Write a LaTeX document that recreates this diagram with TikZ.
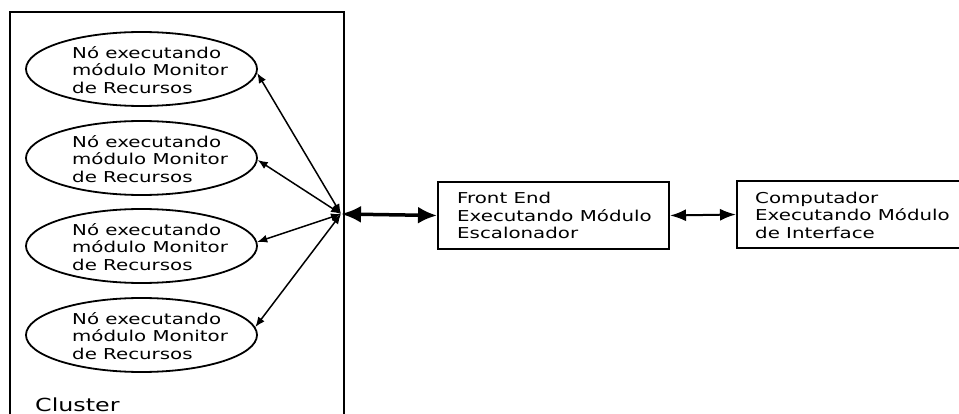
\documentclass[tikz,border=0pt]{standalone}
\usepackage{fontspec}
\setmainfont{DejaVu Sans}[FakeStretch=1.32]
\usetikzlibrary{shapes.geometric,arrows.meta}

\begin{document}
\begin{tikzpicture}[x=1pt,y=-1pt,
    font=\fontsize{15}{17.5}\selectfont,
    frame/.style={draw, line width=2pt, inner sep=0pt},
    nodering/.style={draw, ellipse, line width=1.8pt, minimum width=231pt, minimum height=74pt, inner sep=0pt},
    modbox/.style={draw, rectangle, line width=2pt, minimum width=231pt, minimum height=67pt, inner sep=0pt},
    caption/.style={align=left, inner sep=0pt, anchor=west},
    thinlink/.style={line width=1.5pt, {Latex[length=10pt,width=8pt]}-{Latex[length=10pt,width=8pt]}},
    thicklink/.style={line width=3.5pt, {Latex[length=20pt,width=17pt]}-{Latex[length=19pt,width=17pt]}},
    midlink/.style={line width=2pt, {Latex[length=16pt,width=12pt]}-{Latex[length=16pt,width=12pt]}}]

  \useasboundingbox (0,0) rectangle (959,414);

  % cluster frame (runs off the lower edge)
  \node[frame, anchor=north west, minimum width=334pt, minimum height=430pt] (cluster) at (9,11) {};
  \node[inner sep=0pt, anchor=base west, font=\fontsize{18}{21}\selectfont] (clusterlabel) at (35,411.5) {Cluster};

  % monitoring nodes inside the cluster
  \foreach \i/\y in {1/69, 2/158, 3/246, 4/335} {
    \node[nodering] (e\i) at (141.5,\y) {};
    \node[caption] (t\i) at (72,\y+1) {Nó executando\\módulo Monitor\\de Recursos};
  }

  % meeting point on the cluster border
  \coordinate (hub) at (341,214);

  % scheduler and interface machines
  \node[modbox] (fe) at (553.5,215.5) {};
  \node[caption] (fetext) at (457,215.5) {Front End\\Executando Módulo\\Escalonador};
  \node[modbox] (pc) at (852.5,214.5) {};
  \node[caption] (pctext) at (755,215) {Computador\\Executando Módulo\\de Interface};

  % links
  \draw[thinlink] (hub) -- (e1.-2);
  \draw[thinlink] (hub) -- (e2.-1);
  \draw[thinlink] (hub) -- (e3.2);
  \draw[thinlink] (hub) -- (e4.4);
  \draw[thicklink] (hub) -- (fe.west);
  \draw[midlink] (fe.east) -- (pc.west);
\end{tikzpicture}
\end{document}
